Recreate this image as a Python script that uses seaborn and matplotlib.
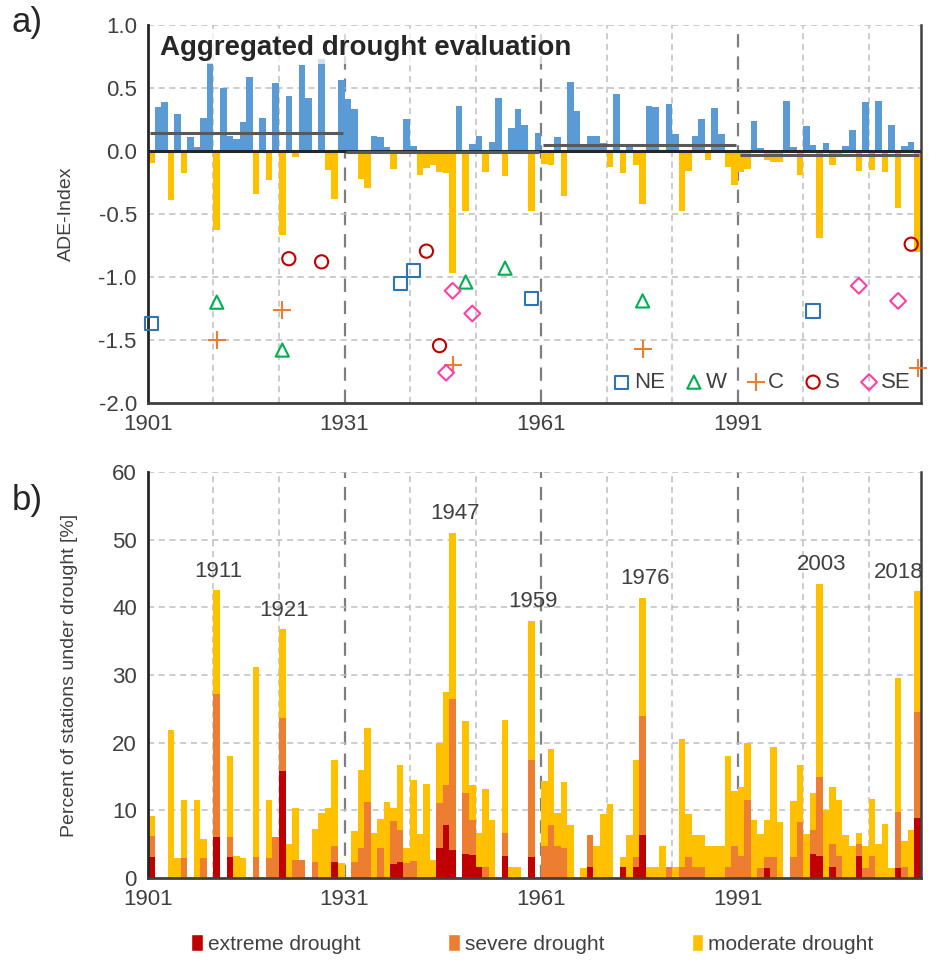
import numpy as np
import pandas as pd
import matplotlib
matplotlib.use("Agg")
import matplotlib.pyplot as plt
from matplotlib.patches import Patch
from matplotlib.ticker import FormatStrFormatter
import seaborn as sns

# ==== data ====
years = list(range(1901, 2019))

# aggregated drought evaluation index, one value per year
ade_index = [
    -0.095, 0.35, 0.385, -0.39, 0.295, -0.175, 0.11, 0.03, 0.26, 0.70,      # 1901-1910
    -0.63, 0.50, 0.12, 0.095, 0.23, 0.59, -0.34, 0.26, -0.23, 0.54,        # 1911-1920
    -0.67, 0.435, -0.045, 0.68, 0.42, 0.0, 0.73, -0.15, -0.38, 0.56,       # 1921-1930
    0.41, 0.33, -0.22, -0.295, 0.115, 0.11, 0.033, -0.14, -0.01, 0.25,     # 1931-1940
    0.04, -0.19, -0.135, -0.115, -0.17, -0.175, -0.97, 0.36, -0.48, 0.055, # 1941-1950
    0.115, -0.165, 0.07, 0.42, -0.20, 0.18, 0.33, 0.21, -0.475, 0.146,     # 1951-1960
    -0.10, -0.115, 0.108, -0.355, 0.55, 0.315, 0.033, 0.12, 0.12, 0.065,   # 1961-1970
    -0.13, 0.45, -0.175, 0.04, -0.115, -0.42, 0.36, 0.35, 0.0, 0.37,       # 1971-1980
    0.135, -0.48, -0.16, 0.115, 0.255, -0.07, 0.34, 0.135, -0.125, -0.27,  # 1981-1990
    -0.17, -0.14, 0.24, 0.02, -0.075, -0.085, -0.09, 0.40, 0.03, -0.19,    # 1991-2000
    0.20, 0.045, -0.69, 0.065, -0.115, -0.05, 0.04, 0.17, -0.16, 0.39,     # 2001-2010
    -0.15, 0.40, -0.17, 0.21, -0.45, 0.04, 0.075, -0.80,                   # 2011-2018
]

# 30-year period means
period_start = [1901, 1931, 1961, 1991]
period_end = [1931, 1961, 1991, 2019]
period_mean = [0.14, -0.01, 0.045, -0.035]

# regional extremes
ne_years = [1901, 1939, 1941, 1959, 2002]
ne_vals = [-1.37, -1.05, -0.95, -1.17, -1.27]
w_years = [1911, 1921, 1949, 1955, 1976]
w_vals = [-1.20, -1.58, -1.04, -0.93, -1.19]
c_years = [1911, 1921, 1947, 1976, 2018]
c_vals = [-1.50, -1.26, -1.70, -1.57, -1.72]
s_years = [1922, 1927, 1943, 1945, 2017]
s_vals = [-0.855, -0.88, -0.795, -1.545, -0.74]
se_years = [1946, 1947, 1950, 2009, 2015]
se_vals = [-1.76, -1.11, -1.29, -1.07, -1.19]

# percent of stations under drought
extreme = [
    3.05, 0, 0, 0, 0, 0, 0, 0, 0, 0,
    6.0, 0, 3.05, 0, 0, 0, 0, 0, 0, 0,
    15.8, 0, 0, 0, 0, 0, 0, 0, 2.3, 0,
    0, 0, 0, 0, 0, 0, 0, 2.1, 2.4, 0,
    0, 0, 0, 0, 4.4, 7.8, 4.1, 0, 3.5, 3.4,
    1.7, 0, 0, 0, 3.3, 0, 0, 0, 3.1, 0,
    0, 0, 0, 0, 0, 0, 0, 1.6, 0, 0,
    0, 0, 1.6, 0, 1.6, 6.3, 0, 0, 0, 0,
    0, 0, 0, 0, 0, 0, 0, 0, 0, 0,
    0, 0, 0, 0, 1.5, 0, 0, 0, 0, 0,
    0, 3.6, 3.2, 0, 1.6, 0, 0, 0, 3.3, 0,
    0, 0, 0, 0, 1.5, 0, 0, 8.8,
]
severe = [
    3.15, 0, 0, 0, 0, 2.95, 0, 0, 2.95, 0,
    21.2, 0, 2.95, 0, 0, 0, 3.05, 0, 2.95, 6.0,
    7.8, 0, 2.6, 2.6, 0, 2.3, 0, 0, 2.5, 0,
    0, 2.3, 4.5, 11.2, 0, 4.4, 0, 6.3, 4.7, 2.2,
    2.55, 0, 0, 0, 6.7, 5.9, 22.4, 0, 9.0, 5.2,
    0, 1.6, 0, 0, 3.3, 0, 0, 0, 14.3, 0,
    4.8, 7.8, 4.7, 4.5, 0, 0, 0, 4.7, 0, 0,
    0, 0, 0, 0, 1.5, 17.6, 0, 0, 0, 1.6,
    0, 1.6, 3.1, 1.6, 1.6, 0, 0, 0, 1.6, 4.8,
    3.2, 11.6, 0, 1.5, 1.6, 3.1, 0, 0, 3.1, 8.3,
    0, 3.5, 11.8, 0, 3.4, 3.2, 0, 0, 1.7, 1.5,
    3.2, 0, 0, 0, 8.3, 1.7, 0, 15.7,
]
moderate = [
    3.0, 0, 0, 21.8, 2.95, 8.65, 0, 11.6, 2.85, 0,
    15.3, 0, 12.1, 3.3, 2.95, 0, 28.2, 0, 8.65, 0,
    13.2, 5.0, 7.7, 0, 0, 4.9, 9.6, 10.3, 12.6, 2.2,
    0, 4.6, 11.4, 11.0, 6.7, 4.3, 11.3, 1.9, 9.6, 2.3,
    11.95, 6.5, 13.9, 2.7, 8.9, 13.8, 24.5, 0, 10.7, 5.2,
    4.9, 11.5, 8.5, 0, 16.7, 1.6, 1.6, 0, 20.6, 0,
    9.6, 11.2, 4.9, 9.7, 7.8, 0, 1.5, 0, 4.7, 9.4,
    11.0, 0, 1.5, 6.3, 14.3, 17.5, 1.6, 1.6, 4.8, 0,
    1.6, 19.0, 6.4, 4.8, 4.7, 4.8, 4.8, 4.8, 16.4, 8.1,
    10.2, 8.4, 8.5, 5.0, 5.4, 16.3, 8.3, 0, 8.3, 8.4,
    6.5, 5.4, 28.5, 10.1, 8.5, 8.3, 6.4, 4.8, 1.6, 3.3,
    8.5, 5.0, 8.0, 1.5, 19.8, 3.7, 7.1, 17.9,
]

peak_labels = ["1911", "1921", "1947", "1959", "1976", "2003", "2018"]

# ==== style ====
sns.set_style("white")
plt.rcParams["font.family"] = ["Liberation Sans", "DejaVu Sans"]
plt.rcParams["axes.unicode_minus"] = False
txt = "#404040"

c_blue, c_gold, c_orange, c_red = "#5b9bd5", "#ffc000", "#ed7d31", "#c00000"

df_a = pd.DataFrame({"year": years, "ade": ade_index})
df_a["x"] = df_a["year"] + 0.5
df_a["sign"] = np.where(df_a["ade"] >= 0, "pos", "neg")

df_b = pd.DataFrame({"year": years, "ext": extreme, "sev": severe, "mod": moderate})
df_b["x"] = df_b["year"] + 0.5
df_b["es"] = df_b["ext"] + df_b["sev"]
df_b["total"] = df_b["es"] + df_b["mod"]

fig = plt.figure(figsize=(9.51, 9.64), dpi=100)
ax1 = fig.add_axes([0.1556, 0.582, 0.8129, 0.3921])
ax2 = fig.add_axes([0.1556, 0.0892, 0.8129, 0.4212])


def style_axis(ax):
    for yr in range(1911, 2019, 10):
        if (yr - 1901) % 30 == 0:
            ax.axvline(yr, color="#7f7f7f", lw=1.6, ls=(0, (6, 4)), zorder=0)
        else:
            ax.axvline(yr, color="#bfbfbf", lw=1.1, ls=(0, (4, 3)), zorder=0)
    ax.set_xlim(1901, 2019)
    ax.set_xticks([1901, 1931, 1961, 1991])
    ax.tick_params(axis="both", length=0, pad=8, labelsize=16, labelcolor=txt)
    ax.spines["top"].set_visible(False)
    ax.spines["left"].set_color("#262626")
    ax.spines["left"].set_linewidth(2)
    ax.spines["bottom"].set_color("#404040")
    ax.spines["bottom"].set_linewidth(2)
    ax.spines["right"].set_color("#404040")
    ax.spines["right"].set_linewidth(1.8)


# ==== a) ADE index ====
sns.barplot(data=df_a, x="x", y="ade", hue="sign", palette={"pos": c_blue, "neg": c_gold},
            native_scale=True, width=1.0, dodge=False, errorbar=None, legend=False,
            saturation=1, linewidth=0, ax=ax1, zorder=2)
style_axis(ax1)
ax1.set_ylim(-2.0, 1.0)
ax1.set_yticks(np.arange(-2.0, 1.01, 0.5))
ax1.yaxis.set_major_formatter(FormatStrFormatter("%.1f"))
for yv in np.arange(-1.5, 1.01, 0.5):
    ax1.axhline(yv, color="#bfbfbf", lw=1.1, ls=(0, (4, 3)), zorder=0)
ax1.axhline(0, color="#262626", lw=2.2, zorder=3)
ax1.hlines(period_mean, np.array(period_start) + 0.3, np.array(period_end) - 0.3,
           color="#595959", lw=2.2, zorder=4)

regions = [
    ("NE", ne_years, ne_vals, "s", "#2e75b6"),
    ("W", w_years, w_vals, "^", "#00b050"),
    ("C", c_years, c_vals, "+", "#ed7d31"),
    ("S", s_years, s_vals, "o", "#c00000"),
    ("SE", se_years, se_vals, "D", "#ff3fa4"),
]
for name, yrs, vals, mk, col in regions:
    fc = col if mk == "+" else "none"
    sz = 160 if mk == "+" else (65 if mk == "D" else 90)
    sns.scatterplot(x=np.array(yrs) + 0.5, y=vals, marker=mk, s=sz, color=col,
                    facecolors=fc, edgecolor=col, linewidth=1.5, label=name,
                    ax=ax1, zorder=5, clip_on=False)
ax1.legend(loc="lower right", ncol=5, frameon=False, fontsize=16, handletextpad=0.15,
           handlelength=0.8, columnspacing=0.9, borderaxespad=0.05, labelcolor=txt,
           markerscale=1.0)

ax1.set_xlabel("")
ax1.set_ylabel("ADE-Index", fontsize=14, color=txt)
ax1.yaxis.set_label_coords(-0.095, 0.5)
ax1.text(0.016, 0.938, "Aggregated drought evaluation", transform=ax1.transAxes,
         fontsize=20, fontweight="bold", color="#262626", va="center", ha="left",
         bbox=dict(facecolor="white", alpha=0.7, edgecolor="none", pad=2), zorder=6)

# ==== b) percent of stations ====
for col_name, col in [("total", c_gold), ("es", c_orange), ("ext", c_red)]:
    sns.barplot(data=df_b, x="x", y=col_name, color=col, native_scale=True, width=1.0,
                errorbar=None, saturation=1, linewidth=0, ax=ax2, zorder=2)
style_axis(ax2)
ax2.set_ylim(0, 60)
ax2.set_yticks(range(0, 61, 10))
for yv in range(10, 61, 10):
    ax2.axhline(yv, color="#bfbfbf", lw=1.1, ls=(0, (4, 3)), zorder=0)
ax2.set_xlabel("")
ax2.set_ylabel("Percent of stations under drought [%]", fontsize=14, color=txt)
ax2.yaxis.set_label_coords(-0.09, 0.5)

tot_by_year = dict(zip(df_b["year"], df_b["total"]))
for lab in peak_labels:
    yr = int(lab)
    if yr == years[-1]:
        ax2.text(2019.3, tot_by_year[yr] + 2.8, lab, ha="right", va="center",
                 fontsize=16, color=txt, zorder=6)
    else:
        ax2.text(yr + 0.8, tot_by_year[yr] + 2.8, lab, ha="center", va="center",
                 fontsize=16, color=txt, zorder=6)

handles = [Patch(facecolor=c_red, label="extreme drought"),
           Patch(facecolor=c_orange, label="severe drought"),
           Patch(facecolor=c_gold, label="moderate drought")]
fig.legend(handles=handles, loc="center", bbox_to_anchor=(0.56, 0.021), ncol=3,
           frameon=False, fontsize=15, handlelength=0.55, handleheight=0.9,
           handletextpad=0.25, columnspacing=4.2, labelcolor=txt)

fig.text(0.012, 0.977, "a)", fontsize=25, color="#262626", va="center")
fig.text(0.012, 0.481, "b)", fontsize=25, color="#262626", va="center")

plt.savefig("out.png", dpi=100)
